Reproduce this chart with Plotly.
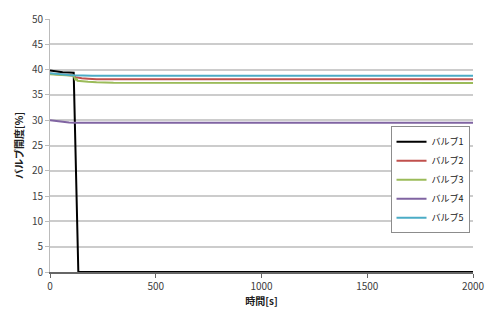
import plotly.graph_objects as go

# Data
names = ["バルブ1", "バルブ2", "バルブ3", "バルブ4", "バルブ5"]
colors = ["#000000", "#c0504d", "#9bbb59", "#8064a2", "#4bacc6"]

t1 = [0, 30, 60, 90, 112, 134, 2000]
v1 = [39.8, 39.6, 39.5, 39.45, 39.4, 0, 0]

t2 = [0, 30, 60, 90, 112, 120, 130, 150, 180, 220, 300, 2000]
v2 = [39.2, 39.1, 39.0, 38.9, 38.85, 38.5, 38.4, 38.3, 38.2, 38.1, 38.07, 38.07]

t3 = [0, 30, 60, 90, 112, 120, 126, 130, 150, 180, 220, 300, 2000]
v3 = [39.1, 39.0, 38.9, 38.85, 38.8, 37.9, 38.3, 37.8, 37.7, 37.6, 37.5, 37.4, 37.37]

t4 = [0, 30, 60, 90, 120, 200, 2000]
v4 = [30.0, 29.8, 29.65, 29.55, 29.5, 29.48, 29.48]

t5 = [0, 30, 60, 90, 112, 130, 160, 200, 2000]
v5 = [39.3, 39.15, 39.0, 38.95, 38.9, 38.85, 38.8, 38.78, 38.78]

xs = [t1, t2, t3, t4, t5]
ys = [v1, v2, v3, v4, v5]

fig = go.Figure()
for n, c, x, y in zip(names, colors, xs, ys):
    fig.add_trace(go.Scatter(x=x, y=y, mode="lines", name=n,
                             line=dict(color=c, width=2)))

font_family = "Noto Sans CJK JP"
fig.update_layout(
    width=500, height=315,
    margin=dict(l=50, r=27, t=10, b=43),
    plot_bgcolor="white", paper_bgcolor="white",
    font=dict(family=font_family, size=10, color="#404040"),
    legend=dict(x=0.805, y=0.365, xanchor="left", yanchor="middle",
                bgcolor="white", bordercolor="#8c8c8c", borderwidth=1,
                font=dict(size=9, color="#202020"),
                itemwidth=30, tracegroupgap=0),
    xaxis=dict(range=[0, 2000], tickvals=[0, 500, 1000, 1500, 2000],
               showgrid=False, zeroline=False,
               showline=True, linecolor="#666666", linewidth=1.5,
               ticks="outside", ticklen=4, tickcolor="#666666",
               title=dict(text="<b>時間[s]</b>", standoff=1,
                          font=dict(size=10, color="#202020")),
               tickfont=dict(size=10, color="#404040")),
    yaxis=dict(range=[0, 50], tickvals=[0, 5, 10, 15, 20, 25, 30, 35, 40, 45, 50],
               showgrid=True, gridcolor="#cccccc", gridwidth=1.5,
               zeroline=False,
               showline=True, linecolor="#bbbbbb", linewidth=1,
               ticks="outside", ticklen=4, tickcolor="#bbbbbb",
               title=dict(text="<b>バルブ開度[%]</b>", standoff=6,
                          font=dict(size=10, color="#202020")),
               tickfont=dict(size=10, color="#404040")),
)

fig.write_html("out.html")
